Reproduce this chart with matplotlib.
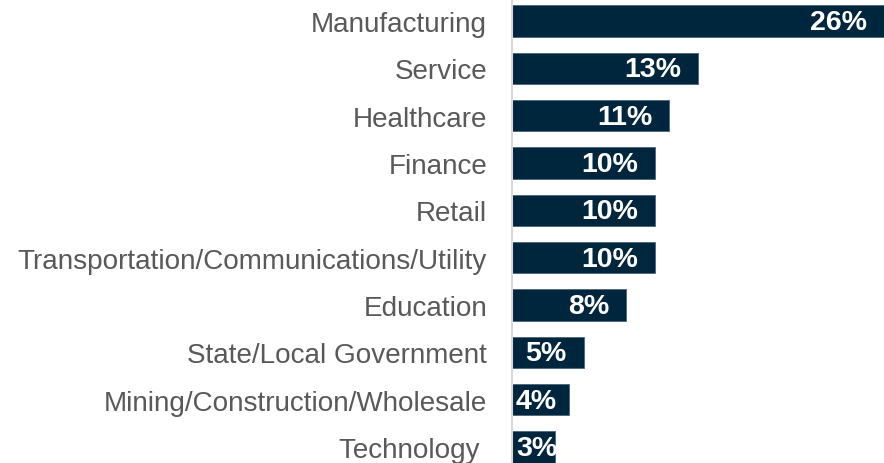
import matplotlib
matplotlib.use("Agg")
import matplotlib.pyplot as plt

# data, top to bottom
categories = ["Manufacturing", "Service", "Healthcare", "Finance", "Retail",
              "Transportation/Communications/Utility", "Education",
              "State/Local Government", "Mining/Construction/Wholesale",
              "Technology "]
values = [26, 13, 11, 10, 10, 10, 8, 5, 4, 3]
labels = ["26%", "13%", "11%", "10%", "10%", "10%", "8%", "5%", "4%", "3%"]

plt.rcParams['font.family'] = ['Liberation Sans', 'DejaVu Sans']

fig = plt.figure(figsize=(8.84, 4.64), dpi=100)
ax = fig.add_axes([0.5792, -0.0166, 0.4208, 1.0203])

ypos = list(range(len(categories)))
ax.barh(ypos, values, height=0.66, color='#00263E', edgecolor='#4a6478', linewidth=0.6)
ax.set_xlim(0, 26)
ax.set_ylim(len(categories) - 0.5, -0.5)

for y, v, lab in zip(ypos, values, labels):
    if v >= 5:
        ax.annotate(lab, (v, y), xytext=(-17, -1), textcoords='offset pixels',
                    ha='right', va='center', color='white', fontsize=20.5,
                    fontweight='bold')
    else:
        ax.annotate(lab, (0, y), xytext=(4, -1), textcoords='offset pixels',
                    ha='left', va='center', color='white', fontsize=20.5,
                    fontweight='bold')

ax.set_yticks(ypos)
ax.set_yticklabels(categories, fontsize=20.1, color='#595959')
ax.tick_params(axis='y', length=0, pad=18)
ax.set_xticks([])
for s in ['top', 'right', 'bottom']:
    ax.spines[s].set_visible(False)
ax.spines['left'].set_color('#D9D9D9')
ax.spines['left'].set_linewidth(1.5)

fig.savefig("out.png", dpi=100)
